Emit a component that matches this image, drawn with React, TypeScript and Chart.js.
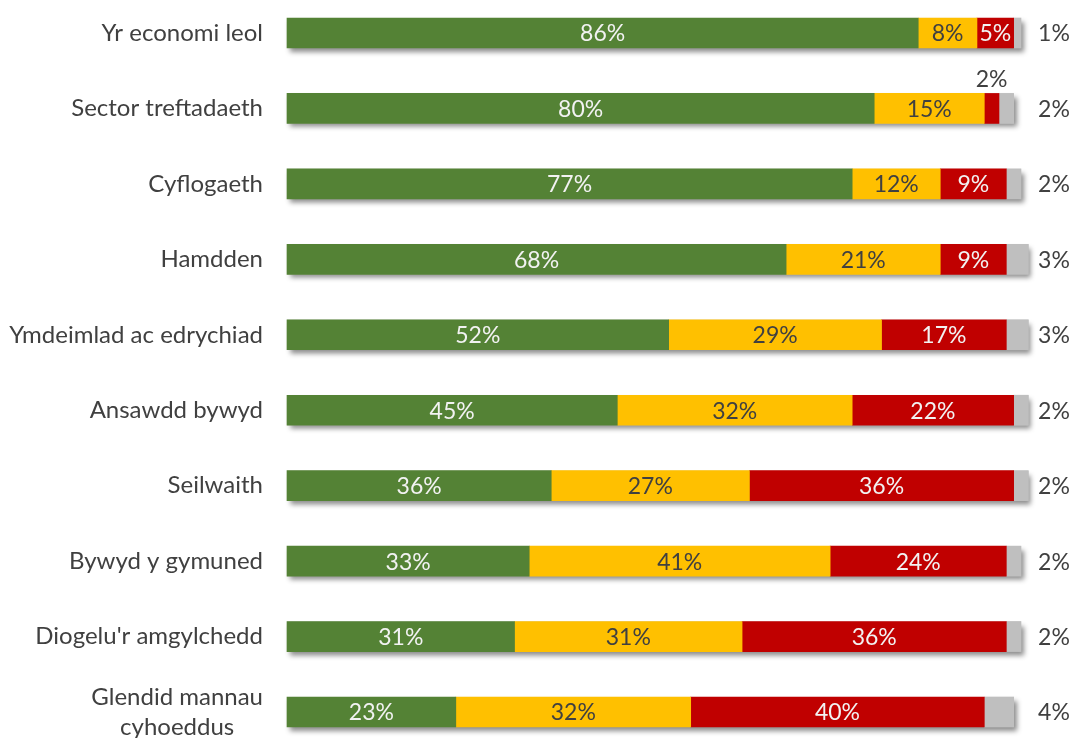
import React, { useEffect, useRef } from "react";
import { Chart, registerables } from "chart.js";

Chart.register(...registerables);

const categories: (string | string[])[] = [
  "Yr economi leol",
  "Sector treftadaeth",
  "Cyflogaeth",
  "Hamdden",
  "Ymdeimlad ac edrychiad",
  "Ansawdd bywyd",
  "Seilwaith",
  "Bywyd y gymuned",
  "Diogelu'r amgylchedd",
  ["Glendid mannau", "cyhoeddus"],
];

const greenValues = [86, 80, 77, 68, 52, 45, 36, 33, 31, 23];
const yellowValues = [8, 15, 12, 21, 29, 32, 27, 41, 31, 32];
const redValues = [5, 2, 9, 9, 17, 22, 36, 24, 36, 40];
const greyValues = [1, 2, 2, 3, 3, 2, 2, 2, 2, 4];

const seriesNames = ["Cadarnhaol", "Niwtral", "Negyddol", "Ddim yn gwybod"];
const seriesColors = ["#548235", "#FFC000", "#C00000", "#BFBFBF"];
const labelColors = ["#F2F2F2", "#404040", "#F2F2F2", "#404040"];

const FONT = "Lato, Calibri, 'Open Sans', sans-serif";
const CAT_FONT_SIZE = 24;
const VAL_FONT_SIZE = 23;

const shadowPlugin = {
  id: "barShadow",
  beforeDatasetsDraw(chart: any) {
    const ctx = chart.ctx;
    const n = chart.data.labels.length;
    const metas = chart.data.datasets.map((_: any, i: number) => chart.getDatasetMeta(i));
    ctx.save();
    for (let i = 0; i < n; i++) {
      const first = metas[0].data[i];
      const last = metas[metas.length - 1].data[i];
      const left = Math.min(first.base, first.x);
      const right = Math.max(last.x, last.base);
      const h = first.height;
      ctx.shadowColor = "rgba(0,0,0,0.45)";
      ctx.shadowBlur = 5;
      ctx.shadowOffsetX = 3;
      ctx.shadowOffsetY = 4;
      ctx.fillStyle = "#BFBFBF";
      ctx.fillRect(left, first.y - h / 2, right - left, h);
    }
    ctx.restore();
  },
};

const labelsPlugin = {
  id: "valueLabels",
  afterDatasetsDraw(chart: any) {
    const ctx = chart.ctx;
    const ca = chart.chartArea;
    ctx.save();
    ctx.font = `${VAL_FONT_SIZE}px ${FONT}`;
    ctx.textBaseline = "middle";
    ctx.textAlign = "center";
    chart.data.datasets.forEach((ds: any, di: number) => {
      const meta = chart.getDatasetMeta(di);
      meta.data.forEach((el: any, i: number) => {
        const v = ds.data[i];
        const text = `${v}%`;
        const left = Math.min(el.base, el.x);
        const right = Math.max(el.base, el.x);
        const w = right - left;
        const tw = ctx.measureText(text).width;
        if (di === seriesNames.length - 1) {
          ctx.fillStyle = "#404040";
          ctx.fillText(text, ca.right + 33, el.y + 1);
        } else if (tw + 2 <= w) {
          ctx.fillStyle = labelColors[di];
          ctx.fillText(text, (left + right) / 2, el.y + 1);
        } else {
          ctx.fillStyle = "#404040";
          ctx.fillText(text, (left + right) / 2, el.y - el.height / 2 - 14);
        }
      });
    });
    ctx.restore();
  },
  afterDraw(chart: any) {
    const ctx = chart.ctx;
    const ca = chart.chartArea;
    const yScale = chart.scales.y;
    ctx.save();
    ctx.font = `${CAT_FONT_SIZE}px ${FONT}`;
    ctx.fillStyle = "#404040";
    ctx.textBaseline = "middle";
    const rightEdge = ca.left - 24;
    const lineH = 30;
    chart.data.labels.forEach((lab: any, i: number) => {
      const y = yScale.getPixelForValue(i);
      const lines: string[] = Array.isArray(lab) ? lab : [lab];
      if (lines.length === 1) {
        ctx.textAlign = "right";
        ctx.fillText(lines[0], rightEdge, y);
      } else {
        const maxW = Math.max(...lines.map((l) => ctx.measureText(l).width));
        const cx = rightEdge - maxW / 2;
        ctx.textAlign = "center";
        const start = y - ((lines.length - 1) * lineH) / 2;
        lines.forEach((l, k) => ctx.fillText(l, cx, start + k * lineH));
      }
    });
    ctx.restore();
  },
};

export default function App() {
  const ref = useRef<HTMLCanvasElement | null>(null);
  useEffect(() => {
    if (!ref.current) return;
    const values = [greenValues, yellowValues, redValues, greyValues];
    const chart = new Chart(ref.current, {
      type: "bar",
      data: {
        labels: categories as any,
        datasets: values.map((data, i) => ({
          label: seriesNames[i],
          data,
          backgroundColor: seriesColors[i],
          borderWidth: 0,
          barThickness: 30,
          clip: false as any,
        })),
      },
      options: {
        indexAxis: "y",
        responsive: false,
        animation: false,
        layout: { padding: { left: 287, right: 57, top: 33, bottom: 26 } },
        plugins: {
          legend: { display: false },
          tooltip: { enabled: false },
        },
        scales: {
          x: { stacked: true, min: 0, max: 100, display: false },
          y: { stacked: true, display: false, offset: false },
        },
      },
      plugins: [shadowPlugin, labelsPlugin],
    });
    return () => chart.destroy();
  }, []);
  return (
    <div style={{ position: "absolute", left: 0, top: 0, width: 1078, height: 738 }}>
      <canvas ref={ref} width={1078} height={738} />
    </div>
  );
}
